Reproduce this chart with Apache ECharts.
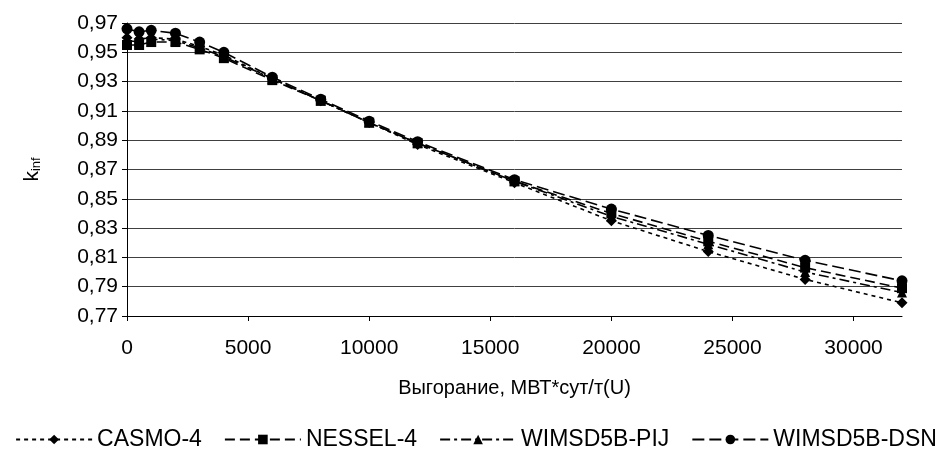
<!DOCTYPE html>
<html>
<head>
<meta charset="utf-8">
<script src="https://cdn.jsdelivr.net/npm/echarts@6/dist/echarts.min.js"></script>
<style>html,body{margin:0;padding:0;background:#fff}#c{width:952px;height:458px}</style>
</head>
<body>
<div id="c"></div>
<script>
const burnup = [0, 500, 1000, 2000, 3000, 4000, 6000, 8000, 10000, 12000, 16000, 20000, 24000, 28000, 32000];
const casmo  = [0.960, 0.959, 0.960, 0.959, 0.954, 0.948, 0.932, 0.917, 0.902, 0.887, 0.861, 0.835, 0.814, 0.795, 0.779];
const nessel = [0.955, 0.955, 0.957, 0.957, 0.952, 0.946, 0.931, 0.917, 0.902, 0.888, 0.862, 0.840, 0.821, 0.803, 0.789];
const pij    = [0.958, 0.957, 0.959, 0.958, 0.953, 0.947, 0.932, 0.917, 0.902, 0.888, 0.862, 0.838, 0.819, 0.800, 0.786];
const dsn    = [0.966, 0.964, 0.965, 0.963, 0.957, 0.950, 0.933, 0.918, 0.903, 0.889, 0.863, 0.843, 0.825, 0.808, 0.794];
const seriesNames = ['CASMO-4', 'NESSEL-4', 'WIMSD5B-PIJ', 'WIMSD5B-DSN'];
const xTicks = [0, 5000, 10000, 15000, 20000, 25000, 30000];
const xTitle = 'Выгорание, МВТ*сут/т(U)';

const FONT = 'Liberation Sans';
function pairs(vals){ return burnup.map((x,i)=>[x, vals[i]]); }
function mk(name, vals, symbol, size, dash){
  return {
    name, type:'line', data: pairs(vals), symbol, symbolSize: size,
    itemStyle:{color:'#000'},
    lineStyle:{color:'#000', width:1.6, type: dash},
    emphasis:{disabled:true}, animation:false
  };
}
const chart = echarts.init(document.getElementById('c'), null, {renderer:'canvas'});
chart.setOption({
  animation:false,
  textStyle:{fontFamily:FONT, color:'#000'},
  grid:{left:127, right:50, top:23, bottom:142},
  xAxis:{
    type:'value', min:0, max:32000, interval:5000,
    name: xTitle, nameLocation:'middle', nameGap:62,
    nameTextStyle:{fontFamily:FONT, fontSize:20, color:'#000'},
    axisLine:{lineStyle:{color:'#000', width:1}},
    axisTick:{show:true, length:5, lineStyle:{color:'#000'}, customValues: xTicks},
    axisLabel:{fontFamily:FONT, fontSize:21, color:'#000', margin:22, customValues: xTicks, formatter: v => String(v)},
    splitLine:{show:false}
  },
  yAxis:{
    type:'value', min:0.77, max:0.97, interval:0.02,
    name:'{k|k}{s|inf}', nameLocation:'middle', nameGap:84, nameRotate:90,
    nameTextStyle:{rich:{k:{fontFamily:FONT, fontSize:21, color:'#000'}, s:{fontFamily:FONT, fontSize:13, color:'#000', verticalAlign:'bottom', lineHeight:22}}},
    axisLine:{show:true, lineStyle:{color:'#000', width:1}},
    axisTick:{show:true, length:5, lineStyle:{color:'#000'}},
    axisLabel:{fontFamily:FONT, fontSize:21, color:'#000', margin:9, formatter: v => v.toFixed(2).replace('.', ',')},
    splitLine:{show:true, lineStyle:{color:'#404040', width:1}}
  },
  legend:{
    bottom:2, left:'center', itemWidth:76, itemHeight:12, itemGap:22,
    textStyle:{fontFamily:FONT, fontSize:23, color:'#000'},
    data: seriesNames
  },
  series:[
    mk(seriesNames[0], casmo, 'diamond', 11, [4,4]),
    mk(seriesNames[1], nessel, 'rect', 10, [10,5]),
    mk(seriesNames[2], pij, 'triangle', 10, [10,4,3,4]),
    mk(seriesNames[3], dsn, 'circle', 11, [12,5])
  ]
});
</script>
</body>
</html>
